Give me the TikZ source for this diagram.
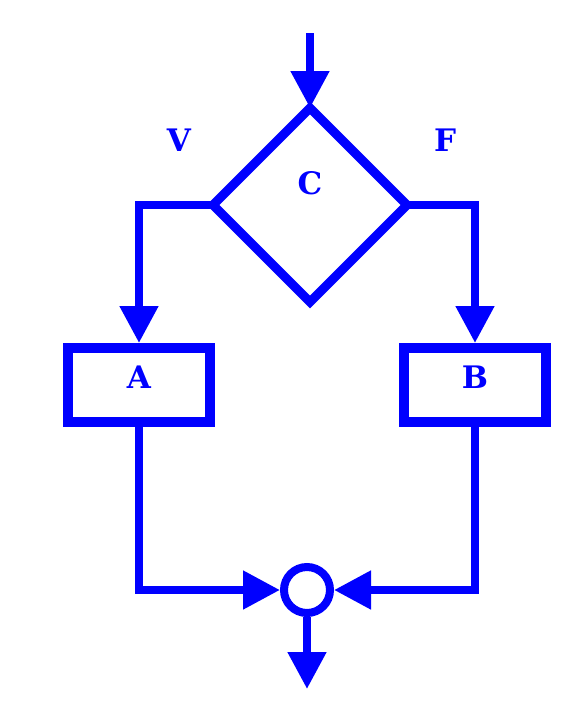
\documentclass[tikz,border=0pt]{standalone}
\usepackage{fontspec}
\setmainfont{DejaVu Serif}
\usetikzlibrary{arrows.meta,positioning,shapes.geometric}
\definecolor{flowblue}{HTML}{0000FF}
\tikzset{
  letters/.style={font=\bfseries\fontsize{31}{31}\selectfont,text=flowblue},
  decision/.style={draw=flowblue,diamond,aspect=1,line width=9pt,inner sep=0pt,outer sep=0pt,
    minimum size=194pt,text depth=44pt,letters},
  block/.style={draw=flowblue,line width=10pt,minimum width=142pt,minimum height=74pt,
    inner sep=0pt,text depth=16pt,letters},
  junction/.style={draw=flowblue,circle,line width=8pt,minimum size=46pt,inner sep=0pt},
  tag/.style={inner sep=0pt,letters},
  arrow/.style={-{Triangle[length=37pt,width=37pt]},draw=flowblue,line width=8pt},
  link/.style={draw=flowblue,line width=8pt}
}
\begin{document}
\begin{tikzpicture}[x=1pt,y=-1pt]
        \fill[white] (0,0) rectangle (569,723);
        \useasboundingbox (0,0) rectangle (569,723);
        \node[decision] (c) at (310,205) {C};
        \node[block] (a) at (139,385) {A};
        \node[block] (b) at (475,385) {B};
        \node[junction] (j) at (307,590) {};
        \node[tag] (v) at (179,140) {V};
        \node[tag] (f) at (445,140) {F};
        \coordinate (in) at (310,33);
        \coordinate (out) at (307,689);
        \draw[arrow] (in)--(c.north);
        \draw[arrow] (c.west)-|(a.north);
        \draw[arrow] (c.east)-|(b.north);
        \draw[arrow] (a.south)|-(j.west);
        \draw[arrow] (b.south)|-(j.east);
        \draw[arrow] (j.south)--(out);
      \end{tikzpicture}
\end{document}
